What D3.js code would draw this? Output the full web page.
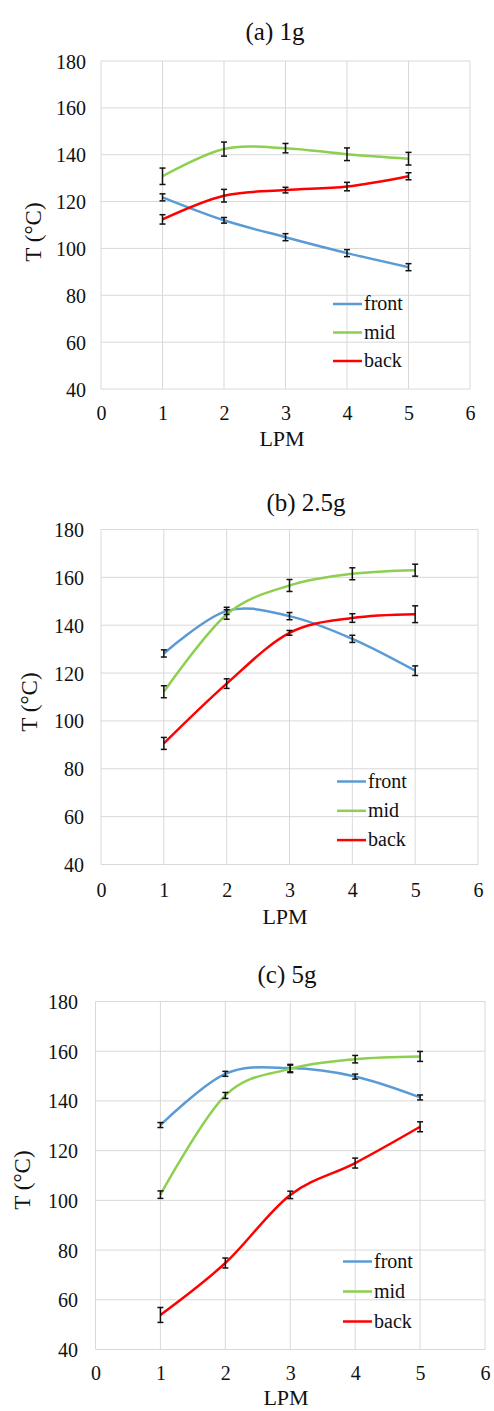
<!DOCTYPE html>
<html>
<head>
<meta charset="utf-8">
<script src="https://cdn.jsdelivr.net/npm/d3@7"></script>
<style>
  html, body { margin: 0; padding: 0; background: #fff; }
  svg { display: block; }
</style>
</head>
<body>
<script>
// ---- data ----
const lpm = [1, 2, 3, 4, 5];
const xTicks = [0, 1, 2, 3, 4, 5, 6];
const yTicks = [40, 60, 80, 100, 120, 140, 160, 180];
const seriesNames = ["front", "mid", "back"];
const panelTitles = ["(a) 1g", "(b) 2.5g", "(c) 5g"];

const frontA = [121.8, 112.0, 104.8, 98.0, 92.0];
const midA   = [130.8, 142.4, 142.8, 140.2, 138.3];
const backA  = [112.4, 122.5, 124.9, 126.4, 130.8];
const frontAErr = [1.5, 1.2, 1.5, 1.5, 1.5];
const midAErr   = [3.5, 3.0, 2.0, 2.7, 2.7];
const backAErr  = [2.0, 2.7, 1.2, 1.8, 1.5];

const frontB = [128.2, 146.0, 143.8, 134.3, 121.0];
const midB   = [112.2, 144.5, 156.6, 161.5, 163.0];
const backB  = [90.6, 115.6, 136.8, 143.0, 144.6];
const frontBErr = [1.5, 1.5, 1.5, 1.5, 2.0];
const midBErr   = [2.5, 2.0, 2.5, 2.5, 2.5];
const backBErr  = [2.5, 2.0, 1.0, 1.8, 3.5];

const frontC = [130.3, 150.9, 153.2, 149.8, 141.4];
const midC   = [102.3, 142.2, 152.9, 156.8, 157.9];
const backC  = [53.9, 74.8, 102.2, 115.0, 129.6];
const frontCErr = [1.0, 1.0, 1.5, 1.0, 1.0];
const midCErr   = [1.5, 1.2, 1.5, 1.5, 2.0];
const backCErr  = [3.0, 2.0, 1.5, 2.0, 2.0];

const panelData = [
  { values: [frontA, midA, backA], errors: [frontAErr, midAErr, backAErr] },
  { values: [frontB, midB, backB], errors: [frontBErr, midBErr, backBErr] },
  { values: [frontC, midC, backC], errors: [frontCErr, midCErr, backCErr] }
];

// ---- layout / style ----
const FONT = "'Liberation Serif', 'Times New Roman', Times, serif";
const colors = ["#5B9BD5", "#8DCF4E", "#FF0000"];
const layouts = [
  { left: 101, right: 470, top: 61, bottom: 389, titleX: 275, titleY: 40,
    tickRight: 86, xTickY: 420, xLabelX: 282, xLabelY: 446, yLabelX: 33, yLabelY: 232,
    legX: 333, legY: 304, legDy: 28.5 },
  { left: 101, right: 478, top: 529.5, bottom: 864.5, titleX: 306, titleY: 511,
    tickRight: 84, xTickY: 897, xLabelX: 285, xLabelY: 924, yLabelX: 29, yLabelY: 702,
    legX: 337, legY: 781.5, legDy: 29.3 },
  { left: 95.5, right: 485, top: 1001.5, bottom: 1349.5, titleX: 287, titleY: 983,
    tickRight: 78, xTickY: 1380, xLabelX: 286, xLabelY: 1405, yLabelX: 22, yLabelY: 1180,
    legX: 343, legY: 1261.5, legDy: 30 }
];

const svg = d3.select("body").append("svg")
  .attr("width", 494).attr("height", 1411);

function txt(sel, size) {
  return sel.attr("font-family", FONT).style("font-family", FONT)
    .attr("font-size", size).style("font-size", size + "px").attr("fill", "#111");
}

panelData.forEach((pd, pi) => {
  const L = layouts[pi];
  const x = d3.scaleLinear().domain([0, 6]).range([L.left, L.right]);
  const y = d3.scaleLinear().domain([40, 180]).range([L.bottom, L.top]);
  const g = svg.append("g");

  // title
  txt(g.append("text").attr("x", L.titleX).attr("y", L.titleY)
    .attr("text-anchor", "middle"), 25).text(panelTitles[pi]);

  // gridlines
  g.append("g").selectAll("line").data(yTicks).join("line")
    .attr("x1", L.left).attr("x2", L.right)
    .attr("y1", d => y(d)).attr("y2", d => y(d))
    .attr("stroke", "#d9d9d9").attr("stroke-width", 1);
  g.append("g").selectAll("line").data(xTicks).join("line")
    .attr("x1", d => x(d)).attr("x2", d => x(d))
    .attr("y1", L.top).attr("y2", L.bottom)
    .attr("stroke", "#d9d9d9").attr("stroke-width", 1);

  // axes (labels only)
  const yAxis = d3.axisLeft(y).tickValues(yTicks).tickSize(0).tickPadding(0).tickFormat(d3.format("d"));
  const ya = g.append("g").attr("transform", `translate(${L.tickRight},0)`).call(yAxis);
  ya.attr("font-family", FONT);
  ya.select(".domain").remove();
  txt(ya.selectAll("text"), 20).attr("dy", "0.35em");

  const xAxis = d3.axisBottom(x).tickValues(xTicks).tickSize(0).tickPadding(0).tickFormat(d3.format("d"));
  const xa = g.append("g").attr("transform", `translate(0,${L.xTickY})`).call(xAxis);
  xa.attr("font-family", FONT);
  xa.select(".domain").remove();
  txt(xa.selectAll("text"), 20).attr("dy", "0").attr("y", 0);

  // axis titles
  txt(g.append("text").attr("x", L.xLabelX).attr("y", L.xLabelY)
    .attr("text-anchor", "middle"), 22).text("LPM");
  txt(g.append("text")
    .attr("transform", `translate(${L.yLabelX + 8},${L.yLabelY}) rotate(-90)`)
    .attr("text-anchor", "middle"), 23).text("T (°C)");

  // lines
  const line = d3.line()
    .x((d, i) => x(lpm[i])).y(d => y(d))
    .curve(d3.curveCatmullRom.alpha(0));
  pd.values.forEach((vals, si) => {
    g.append("path").datum(vals).attr("d", line)
      .attr("fill", "none").attr("stroke", colors[si])
      .attr("stroke-width", 2.5).attr("stroke-linejoin", "round");
  });

  // error bars
  pd.values.forEach((vals, si) => {
    const errs = pd.errors[si];
    const eg = g.append("g").attr("stroke", "#111").attr("stroke-width", 1.5);
    vals.forEach((v, i) => {
      const cx = x(lpm[i]);
      const y1 = y(v - errs[i]), y2 = y(v + errs[i]);
      eg.append("line").attr("x1", cx).attr("x2", cx).attr("y1", y1).attr("y2", y2);
      eg.append("line").attr("x1", cx - 3).attr("x2", cx + 3).attr("y1", y1).attr("y2", y1);
      eg.append("line").attr("x1", cx - 3).attr("x2", cx + 3).attr("y1", y2).attr("y2", y2);
    });
  });

  // legend
  seriesNames.forEach((name, si) => {
    const ly = L.legY + si * L.legDy;
    g.append("line").attr("x1", L.legX).attr("x2", L.legX + 29)
      .attr("y1", ly).attr("y2", ly)
      .attr("stroke", colors[si]).attr("stroke-width", 2.5);
    txt(g.append("text").attr("x", L.legX + 31).attr("y", ly + 6), 20).text(name);
  });
});
</script>
</body>
</html>
